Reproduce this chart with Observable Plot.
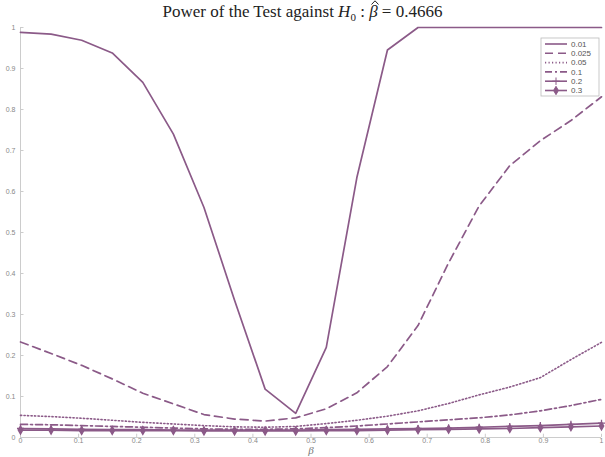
<!DOCTYPE html>
<html>
<head>
<meta charset="utf-8">
<script src="https://cdn.jsdelivr.net/npm/d3@7"></script>
<script src="https://cdn.jsdelivr.net/npm/@observablehq/plot@0.6"></script>
<style>
  body { margin: 0; background: #fff; }
  #title { height: 22px; width: 605px; text-align: center; font-family: "Liberation Serif", "DejaVu Serif", serif; font-size: 17px; line-height: 24px; color: #222; overflow: visible; }
  #title i { font-style: italic; }
  .hat { position: relative; display: inline-block; line-height: 15px; }
  .hat svg { position: absolute; left: 2px; top: -4px; }
</style>
</head>
<body>
<div id="title">Power of the Test against <i>H</i><sub style="font-size:11px">0</sub> : <span class="hat"><i>β</i><svg width="8" height="5" viewBox="0 0 8 5"><path d="M0.5,4.5 L4,0.8 L7.5,4.5" fill="none" stroke="#222" stroke-width="1"/></svg></span> = 0.4666</div>
<div id="chart"></div>
<script>
const beta = d3.range(20).map(i => i / 19);
const seriesNames = ["0.01", "0.025", "0.05", "0.1", "0.2", "0.3"];
const p001 = [0.988, 0.984, 0.969, 0.938, 0.866, 0.740, 0.561, 0.335, 0.118, 0.059, 0.220, 0.634, 0.945, 1.0, 1.0, 1.0, 1.0, 1.0, 1.0, 1.0];
const p0025 = [0.233, 0.205, 0.176, 0.143, 0.108, 0.082, 0.056, 0.045, 0.040, 0.048, 0.070, 0.109, 0.173, 0.273, 0.426, 0.565, 0.663, 0.724, 0.773, 0.831];
const p005 = [0.054, 0.051, 0.047, 0.042, 0.037, 0.033, 0.029, 0.026, 0.025, 0.027, 0.034, 0.042, 0.052, 0.065, 0.083, 0.104, 0.123, 0.146, 0.190, 0.232];
const p01 = [0.032, 0.031, 0.029, 0.027, 0.025, 0.023, 0.021, 0.020, 0.020, 0.021, 0.024, 0.028, 0.033, 0.038, 0.043, 0.048, 0.055, 0.065, 0.078, 0.093];
const p02 = [0.022, 0.021, 0.020, 0.019, 0.019, 0.018, 0.018, 0.018, 0.018, 0.018, 0.019, 0.020, 0.021, 0.022, 0.023, 0.025, 0.027, 0.029, 0.032, 0.035];
const p03 = [0.018, 0.018, 0.017, 0.017, 0.017, 0.017, 0.016, 0.016, 0.016, 0.016, 0.017, 0.017, 0.018, 0.019, 0.020, 0.021, 0.022, 0.024, 0.026, 0.028];
const xTicks = [0, 0.1, 0.2, 0.3, 0.4, 0.5, 0.6, 0.7, 0.8, 0.9, 1];
const yTicks = [0, 0.1, 0.2, 0.3, 0.4, 0.5, 0.6, 0.7, 0.8, 0.9, 1];

const col = "#8b5a88";
const allSeries = [p001, p0025, p005, p01, p02, p03];
const styles = [
  {dash: "none", width: 1.7, symbol: null},
  {dash: "8,5", width: 1.7, symbol: null},
  {dash: "1.2,2.3", width: 1.6, symbol: null},
  {dash: "7,3,2,3", width: 1.7, symbol: null},
  {dash: "none", width: 1.7, symbol: "plus"},
  {dash: "none", width: 1.7, symbol: "diamond"}
];
const rows = (vals) => vals.map((v, i) => ({x: beta[i], y: v}));
const fmt = d => d3.format("~g")(d);

const marks = [
  Plot.ruleX([0], {stroke: "#ccc", strokeWidth: 1}),
  Plot.ruleY([0], {stroke: "#ccc", strokeWidth: 1}),
  Plot.ruleX(xTicks, {x: d => d, y1: 0, y2: 0.008, stroke: "#ccc"}),
  Plot.ruleY(yTicks, {y: d => d, x1: 0, x2: 0.006, stroke: "#ccc"})
];
allSeries.forEach((vals, k) => {
  const st = styles[k];
  marks.push(Plot.line(rows(vals), {x: "x", y: "y", stroke: col, strokeWidth: st.width, strokeDasharray: st.dash}));
  if (st.symbol) {
    marks.push(Plot.dot(rows(vals), {x: "x", y: "y", stroke: col, fill: col, symbol: st.symbol, r: 2.4, strokeWidth: 1.3}));
  }
});

const plot = Plot.plot({
  width: 605,
  height: 435,
  marginTop: 5,
  marginBottom: 20,
  marginLeft: 20,
  marginRight: 4,
  style: {fontFamily: "Liberation Sans, Arial, sans-serif", fontSize: "7px", color: "#888", background: "#fff"},
  x: {domain: [0, 1], label: null},
  y: {domain: [0, 1], label: null},
  marks: [
    ...marks,
    Plot.axisX({ticks: xTicks, tickSize: 0, tickPadding: 1, tickFormat: fmt, label: null, fill: "#888"}),
    Plot.axisY({ticks: yTicks, tickSize: 0, tickPadding: 5, tickFormat: fmt, label: null, fill: "#888"}),
    Plot.text(["β"], {x: 0.5, frameAnchor: "bottom", lineAnchor: "top", dy: 9, fontStyle: "italic", fontFamily: "Liberation Serif, serif", fontSize: 11, fill: "#777"})
  ]
});
document.getElementById("chart").appendChild(plot);

// legend
const svg = d3.select(plot);
const lg = svg.append("g").attr("transform", "translate(541,16)").attr("text-anchor", "start");
lg.append("rect").attr("x", 0).attr("y", 0).attr("width", 58).attr("height", 58)
  .attr("fill", "#fff").attr("stroke", "#bbb").attr("stroke-width", 0.8);
seriesNames.forEach((name, k) => {
  const yy = 6 + k * 9.3;
  const st = styles[k];
  lg.append("line").attr("x1", 4).attr("x2", 26).attr("y1", yy).attr("y2", yy)
    .attr("stroke", col).attr("stroke-width", 1.6)
    .attr("stroke-dasharray", st.dash);
  if (st.symbol) {
    const sym = d3.symbol(st.symbol === "plus" ? d3.symbolPlus : d3.symbolDiamond, 20);
    lg.append("path").attr("d", sym()).attr("transform", `translate(15,${yy})`)
      .attr("fill", col).attr("stroke", col).attr("stroke-width", 1);
  }
  lg.append("text").attr("x", 30).attr("y", yy + 2.6).text(name)
    .attr("text-anchor", "start")
    .attr("font-size", 8).attr("fill", "#555").attr("font-family", "Liberation Sans, Arial, sans-serif");
});
</script>
</body>
</html>
